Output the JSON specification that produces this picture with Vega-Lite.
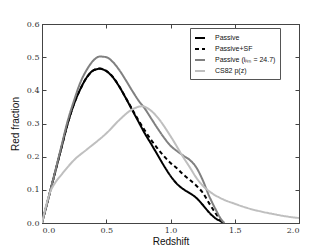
{
  "$schema": "https://vega.github.io/schema/vega-lite/v6.json",
  "autosize": "none",
  "width": 257,
  "height": 199,
  "padding": {"left": 42, "top": 24, "right": 33, "bottom": 26},
  "background": "white",
  "config": {
    "view": {"stroke": "#444", "strokeWidth": 1},
    "axis": {
      "grid": false,
      "domainColor": "#444",
      "tickColor": "#444",
      "tickSize": -4,
      "labelFont": "DejaVu Serif",
      "labelFontSize": 8,
      "labelColor": "#333",
      "labelPadding": 7,
      "titleFont": "Liberation Sans",
      "titleFontSize": 10,
      "titleFontWeight": "normal",
      "titleColor": "#111"
    },
    "legend": {
      "title": null, "orient": "none", "legendX": 148, "legendY": 4,
      "symbolType": "stroke", "symbolSize": 100, "symbolStrokeWidth": 2,
      "labelFont": "Liberation Sans", "labelFontSize": 7, "labelColor": "#111",
      "strokeColor": "#555", "fillColor": "white", "padding": 4, "rowPadding": 1,
      "labelOffset": 9, "gridAlign": "all"
    }
  },
  "datasets": {
    "curves": [
      {"z": 0.0, "v": 0.0, "s": "Passive"},
      {"z": 0.05, "v": 0.075, "s": "Passive"},
      {"z": 0.1, "v": 0.15, "s": "Passive"},
      {"z": 0.15, "v": 0.225, "s": "Passive"},
      {"z": 0.2, "v": 0.3, "s": "Passive"},
      {"z": 0.25, "v": 0.36, "s": "Passive"},
      {"z": 0.3, "v": 0.405, "s": "Passive"},
      {"z": 0.35, "v": 0.44, "s": "Passive"},
      {"z": 0.4, "v": 0.46, "s": "Passive"},
      {"z": 0.45, "v": 0.465, "s": "Passive"},
      {"z": 0.5, "v": 0.458, "s": "Passive"},
      {"z": 0.55, "v": 0.44, "s": "Passive"},
      {"z": 0.6, "v": 0.412, "s": "Passive"},
      {"z": 0.65, "v": 0.378, "s": "Passive"},
      {"z": 0.7, "v": 0.342, "s": "Passive"},
      {"z": 0.75, "v": 0.306, "s": "Passive"},
      {"z": 0.8, "v": 0.27, "s": "Passive"},
      {"z": 0.85, "v": 0.238, "s": "Passive"},
      {"z": 0.9, "v": 0.205, "s": "Passive"},
      {"z": 0.95, "v": 0.172, "s": "Passive"},
      {"z": 1.0, "v": 0.142, "s": "Passive"},
      {"z": 1.05, "v": 0.118, "s": "Passive"},
      {"z": 1.1, "v": 0.102, "s": "Passive"},
      {"z": 1.15, "v": 0.09, "s": "Passive"},
      {"z": 1.2, "v": 0.076, "s": "Passive"},
      {"z": 1.25, "v": 0.055, "s": "Passive"},
      {"z": 1.3, "v": 0.032, "s": "Passive"},
      {"z": 1.35, "v": 0.014, "s": "Passive"},
      {"z": 1.4, "v": 0.003, "s": "Passive"},
      {"z": 1.41, "v": 0.0, "s": "Passive"},

      {"z": 0.0, "v": 0.0, "s": "Passive+SF"},
      {"z": 0.05, "v": 0.075, "s": "Passive+SF"},
      {"z": 0.1, "v": 0.15, "s": "Passive+SF"},
      {"z": 0.15, "v": 0.225, "s": "Passive+SF"},
      {"z": 0.2, "v": 0.3, "s": "Passive+SF"},
      {"z": 0.25, "v": 0.36, "s": "Passive+SF"},
      {"z": 0.3, "v": 0.405, "s": "Passive+SF"},
      {"z": 0.35, "v": 0.44, "s": "Passive+SF"},
      {"z": 0.4, "v": 0.46, "s": "Passive+SF"},
      {"z": 0.45, "v": 0.466, "s": "Passive+SF"},
      {"z": 0.5, "v": 0.459, "s": "Passive+SF"},
      {"z": 0.55, "v": 0.441, "s": "Passive+SF"},
      {"z": 0.6, "v": 0.413, "s": "Passive+SF"},
      {"z": 0.65, "v": 0.379, "s": "Passive+SF"},
      {"z": 0.7, "v": 0.344, "s": "Passive+SF"},
      {"z": 0.75, "v": 0.31, "s": "Passive+SF"},
      {"z": 0.8, "v": 0.279, "s": "Passive+SF"},
      {"z": 0.85, "v": 0.25, "s": "Passive+SF"},
      {"z": 0.9, "v": 0.224, "s": "Passive+SF"},
      {"z": 0.95, "v": 0.201, "s": "Passive+SF"},
      {"z": 1.0, "v": 0.181, "s": "Passive+SF"},
      {"z": 1.05, "v": 0.165, "s": "Passive+SF"},
      {"z": 1.1, "v": 0.146, "s": "Passive+SF"},
      {"z": 1.15, "v": 0.13, "s": "Passive+SF"},
      {"z": 1.2, "v": 0.113, "s": "Passive+SF"},
      {"z": 1.25, "v": 0.092, "s": "Passive+SF"},
      {"z": 1.3, "v": 0.06, "s": "Passive+SF"},
      {"z": 1.35, "v": 0.03, "s": "Passive+SF"},
      {"z": 1.4, "v": 0.006, "s": "Passive+SF"},
      {"z": 1.42, "v": 0.0, "s": "Passive+SF"},

      {"z": 0.0, "v": 0.0, "s": "Passive (iₗᵢₘ = 24.7)"},
      {"z": 0.05, "v": 0.075, "s": "Passive (iₗᵢₘ = 24.7)"},
      {"z": 0.1, "v": 0.152, "s": "Passive (iₗᵢₘ = 24.7)"},
      {"z": 0.15, "v": 0.23, "s": "Passive (iₗᵢₘ = 24.7)"},
      {"z": 0.2, "v": 0.308, "s": "Passive (iₗᵢₘ = 24.7)"},
      {"z": 0.25, "v": 0.37, "s": "Passive (iₗᵢₘ = 24.7)"},
      {"z": 0.3, "v": 0.425, "s": "Passive (iₗᵢₘ = 24.7)"},
      {"z": 0.35, "v": 0.463, "s": "Passive (iₗᵢₘ = 24.7)"},
      {"z": 0.4, "v": 0.49, "s": "Passive (iₗᵢₘ = 24.7)"},
      {"z": 0.45, "v": 0.502, "s": "Passive (iₗᵢₘ = 24.7)"},
      {"z": 0.5, "v": 0.5, "s": "Passive (iₗᵢₘ = 24.7)"},
      {"z": 0.55, "v": 0.486, "s": "Passive (iₗᵢₘ = 24.7)"},
      {"z": 0.6, "v": 0.462, "s": "Passive (iₗᵢₘ = 24.7)"},
      {"z": 0.65, "v": 0.432, "s": "Passive (iₗᵢₘ = 24.7)"},
      {"z": 0.7, "v": 0.4, "s": "Passive (iₗᵢₘ = 24.7)"},
      {"z": 0.75, "v": 0.37, "s": "Passive (iₗᵢₘ = 24.7)"},
      {"z": 0.8, "v": 0.345, "s": "Passive (iₗᵢₘ = 24.7)"},
      {"z": 0.85, "v": 0.315, "s": "Passive (iₗᵢₘ = 24.7)"},
      {"z": 0.9, "v": 0.285, "s": "Passive (iₗᵢₘ = 24.7)"},
      {"z": 0.95, "v": 0.257, "s": "Passive (iₗᵢₘ = 24.7)"},
      {"z": 1.0, "v": 0.233, "s": "Passive (iₗᵢₘ = 24.7)"},
      {"z": 1.05, "v": 0.217, "s": "Passive (iₗᵢₘ = 24.7)"},
      {"z": 1.1, "v": 0.203, "s": "Passive (iₗᵢₘ = 24.7)"},
      {"z": 1.15, "v": 0.19, "s": "Passive (iₗᵢₘ = 24.7)"},
      {"z": 1.2, "v": 0.168, "s": "Passive (iₗᵢₘ = 24.7)"},
      {"z": 1.25, "v": 0.13, "s": "Passive (iₗᵢₘ = 24.7)"},
      {"z": 1.3, "v": 0.082, "s": "Passive (iₗᵢₘ = 24.7)"},
      {"z": 1.35, "v": 0.042, "s": "Passive (iₗᵢₘ = 24.7)"},
      {"z": 1.4, "v": 0.008, "s": "Passive (iₗᵢₘ = 24.7)"},
      {"z": 1.42, "v": 0.0, "s": "Passive (iₗᵢₘ = 24.7)"},

      {"z": 0.0, "v": 0.0, "s": "CS82 p(z)"},
      {"z": 0.03, "v": 0.05, "s": "CS82 p(z)"},
      {"z": 0.065, "v": 0.095, "s": "CS82 p(z)"},
      {"z": 0.1, "v": 0.12, "s": "CS82 p(z)"},
      {"z": 0.15, "v": 0.145, "s": "CS82 p(z)"},
      {"z": 0.25, "v": 0.19, "s": "CS82 p(z)"},
      {"z": 0.35, "v": 0.222, "s": "CS82 p(z)"},
      {"z": 0.44, "v": 0.25, "s": "CS82 p(z)"},
      {"z": 0.5, "v": 0.27, "s": "CS82 p(z)"},
      {"z": 0.6, "v": 0.31, "s": "CS82 p(z)"},
      {"z": 0.7, "v": 0.342, "s": "CS82 p(z)"},
      {"z": 0.78, "v": 0.352, "s": "CS82 p(z)"},
      {"z": 0.85, "v": 0.338, "s": "CS82 p(z)"},
      {"z": 0.9, "v": 0.318, "s": "CS82 p(z)"},
      {"z": 1.0, "v": 0.262, "s": "CS82 p(z)"},
      {"z": 1.1, "v": 0.198, "s": "CS82 p(z)"},
      {"z": 1.15, "v": 0.168, "s": "CS82 p(z)"},
      {"z": 1.2, "v": 0.137, "s": "CS82 p(z)"},
      {"z": 1.25, "v": 0.113, "s": "CS82 p(z)"},
      {"z": 1.3, "v": 0.096, "s": "CS82 p(z)"},
      {"z": 1.4, "v": 0.073, "s": "CS82 p(z)"},
      {"z": 1.5, "v": 0.058, "s": "CS82 p(z)"},
      {"z": 1.6, "v": 0.045, "s": "CS82 p(z)"},
      {"z": 1.7, "v": 0.035, "s": "CS82 p(z)"},
      {"z": 1.8, "v": 0.027, "s": "CS82 p(z)"},
      {"z": 1.9, "v": 0.02, "s": "CS82 p(z)"},
      {"z": 2.0, "v": 0.015, "s": "CS82 p(z)"}
    ]
  },
  "data": {"name": "curves"},
  "layer": [
    {
      "mark": {"type": "line", "strokeWidth": 2, "interpolate": "monotone", "clip": true},
      "encoding": {
        "x": {"field": "z", "type": "quantitative", "scale": {"domain": [0, 2], "nice": false},
              "axis": {"title": "Redshift", "values": [0, 0.5, 1, 1.5, 2], "format": ".1f", "titlePadding": 2}},
        "y": {"field": "v", "type": "quantitative", "scale": {"domain": [0, 0.6], "nice": false},
              "axis": {"title": "Red fraction", "values": [0, 0.1, 0.2, 0.3, 0.4, 0.5, 0.6], "format": ".1f", "titlePadding": 6}},
        "color": {"field": "s", "type": "nominal",
          "sort": ["Passive", "Passive+SF", "Passive (iₗᵢₘ = 24.7)", "CS82 p(z)"],
          "scale": {"domain": ["Passive", "Passive+SF", "Passive (iₗᵢₘ = 24.7)", "CS82 p(z)"],
                    "range": ["#000000", "#000000", "#808080", "#bfbfbf"]}},
        "strokeDash": {"field": "s", "type": "nominal",
          "sort": ["Passive", "Passive+SF", "Passive (iₗᵢₘ = 24.7)", "CS82 p(z)"],
          "scale": {"domain": ["Passive", "Passive+SF", "Passive (iₗᵢₘ = 24.7)", "CS82 p(z)"],
                    "range": [[1, 0], [4, 3], [1, 0], [1, 0]]}}
      }
    },
    {
      "mark": {"type": "rule", "opacity": 0},
      "encoding": {
        "x": {"field": "z", "type": "quantitative", "aggregate": "min",
              "axis": {"orient": "top", "title": null, "labels": false, "values": [0, 0.5, 1, 1.5, 2]}},
        "y": {"field": "v", "type": "quantitative", "aggregate": "min",
              "axis": {"orient": "right", "title": null, "labels": false, "values": [0, 0.1, 0.2, 0.3, 0.4, 0.5, 0.6]}}
      }
    }
  ],
  "resolve": {"axis": {"x": "independent", "y": "independent"}}
}
